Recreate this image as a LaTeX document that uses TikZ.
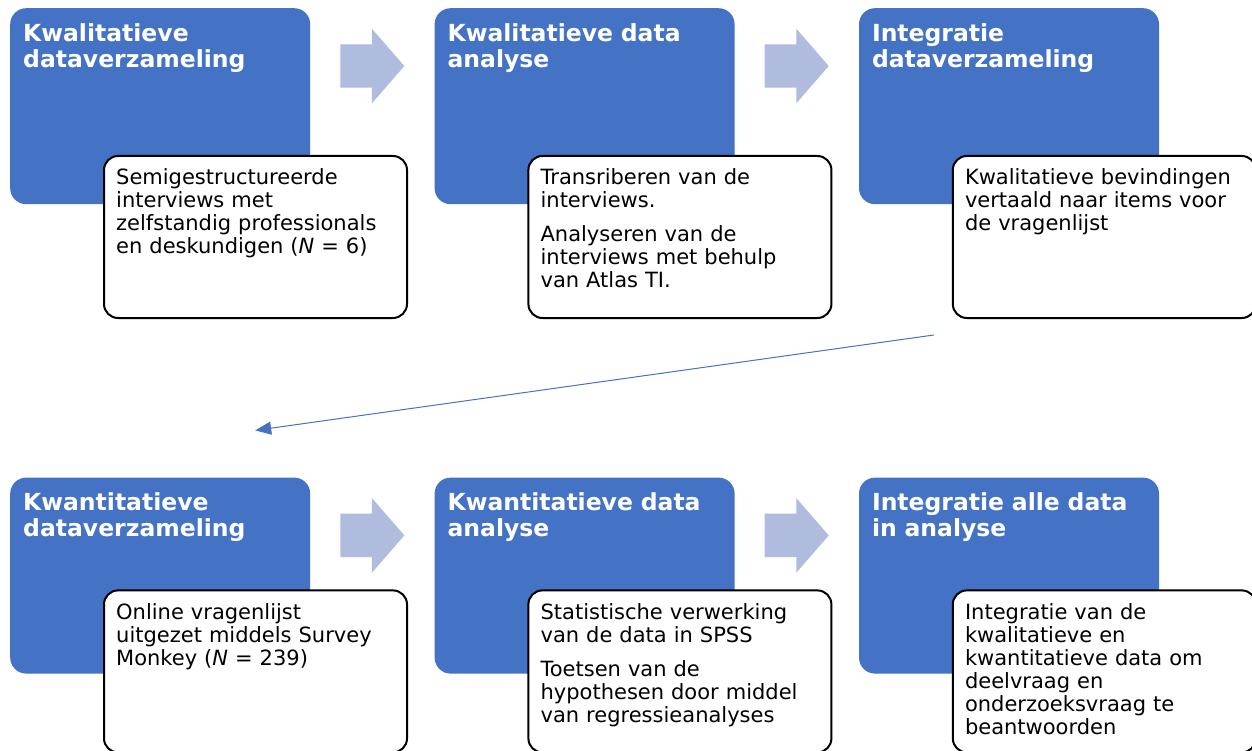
\documentclass[tikz,border=0pt]{standalone}
\usepackage{fontspec}
\setmainfont{DejaVu Sans}
\usetikzlibrary{positioning, shapes.arrows, arrows.meta}
\definecolor{stageblue}{RGB}{68,114,196}
\definecolor{flowblue}{RGB}{175,188,222}
\tikzset{x=1pt,y=1pt,node distance=124pt,
stage/.style={fill=stageblue, rounded corners=16pt, minimum width=300pt, minimum height=196pt, inner sep=0pt},
heading/.style={text=white, font=\fontsize{23.5}{26}\selectfont\bfseries, text width=290pt, align=left, inner sep=0pt, anchor=north west},
card/.style={draw, line width=2pt, rounded corners=14pt, fill=white, minimum width=303pt, minimum height=162pt, inner sep=0pt},
cardtext/.style={font=\fontsize{21}{23}\selectfont, text width=290pt, align=left, inner sep=0pt, anchor=north west},
flow/.style={single arrow, fill=flowblue, minimum height=64pt, inner xsep=0pt, inner ysep=21.5pt, single arrow head extend=15.5pt, single arrow tip angle=98}}

\begin{document}
\begin{tikzpicture}
\useasboundingbox (0,0) rectangle (1252,-751);
% stages
\node[stage, anchor=north west] (kwal) at (10,-8) {};
\node[stage, right=of kwal] (kwalan) {};
\node[stage, right=of kwalan] (integ) {};
\node[stage, below=273pt of kwal] (kwan) {};
\node[stage, right=of kwan] (kwanan) {};
\node[stage, right=of kwanan] (alles) {};
% arrows between stages
\foreach \s in {kwal, kwalan, kwan, kwanan}
  \node[flow] (flow-\s) at ([shift={(52.5,-58)}]\s.north east) {};
% headings
\node[heading] (h-kwal) at ([shift={(13,-15)}]kwal.north west) {Kwalitatieve\\dataverzameling};
\node[heading] (h-kwalan) at ([shift={(13,-15)}]kwalan.north west) {Kwalitatieve data\\analyse};
\node[heading] (h-integ) at ([shift={(13,-15)}]integ.north west) {Integratie\\dataverzameling};
\node[heading] (h-kwan) at ([shift={(13,-15)}]kwan.north west) {Kwantitatieve\\dataverzameling};
\node[heading] (h-kwanan) at ([shift={(13,-15)}]kwanan.north west) {Kwantitatieve data\\analyse};
\node[heading] (h-alles) at ([shift={(13,-15)}]alles.north west) {Integratie alle data\\in analyse};
% cards
\foreach \s in {kwal, kwalan, integ}
  \node[card, anchor=north west] (c-\s) at ([shift={(93,-147)}]\s.north west) {};
\foreach \s in {kwan, kwanan, alles}
  \node[card, anchor=north west] (c-\s) at ([shift={(93,-112)}]\s.north west) {};
\node[cardtext] (t-kwal) at ([shift={(13,-13)}]c-kwal.north west)
  {Semigestructureerde\\interviews met\\zelfstandig professionals\\en deskundigen (\textit{N} = 6)};
\node[cardtext] (t-kwalan) at ([shift={(13,-13)}]c-kwalan.north west)
  {Transriberen van de\\interviews.\\[11pt]Analyseren van de\\interviews met behulp\\van Atlas TI.};
\node[cardtext] (t-integ) at ([shift={(13,-13)}]c-integ.north west)
  {Kwalitatieve bevindingen\\vertaald naar items voor\\de vragenlijst};
\node[cardtext] (t-kwan) at ([shift={(13,-14)}]c-kwan.north west)
  {Online vragenlijst\\uitgezet middels Survey\\Monkey (\textit{N} = 239)};
\node[cardtext] (t-kwanan) at ([shift={(13,-14)}]c-kwanan.north west)
  {Statistische verwerking\\van de data in SPSS\\[11pt]Toetsen van de\\hypothesen door middel\\van regressieanalyses};
\node[cardtext] (t-alles) at ([shift={(13,-14)}]c-alles.north west)
  {Integratie van de\\kwalitatieve en\\kwantitatieve data om\\deelvraag en\\onderzoeksvraag te\\beantwoorden};
% link to the second row
\coordinate (from) at ([shift={(-18,-16)}]c-integ.south west);
\coordinate (to) at ([shift={(95,47)}]kwan.north);
\draw[stageblue, line width=1pt, -{Triangle[length=16pt,width=13pt]}] (from) -- (to);
\end{tikzpicture}
\end{document}
